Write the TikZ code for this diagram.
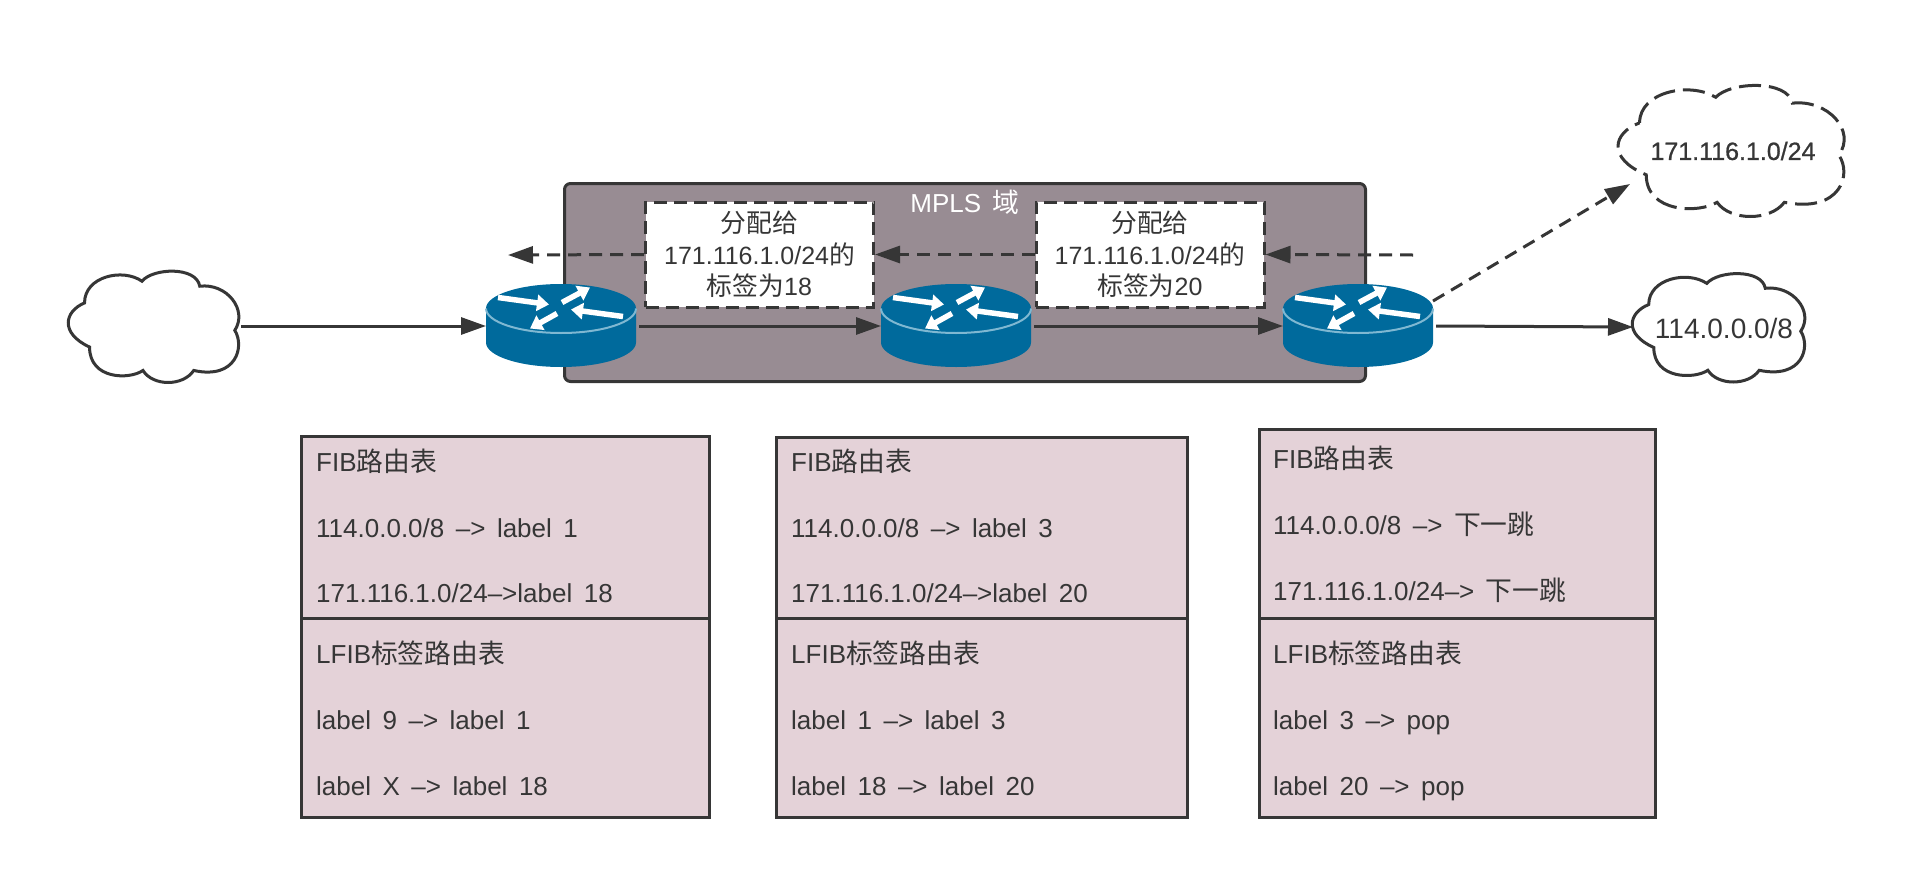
\documentclass[tikz,border=0pt]{standalone}
\usepackage{fontspec}
\setmainfont{Liberation Sans}
\newfontfamily\cjk[Scale=1.03]{Noto Sans CJK SC}
\newfontfamily\medf[FakeBold=0.8]{Liberation Sans}
\usetikzlibrary{arrows.meta}
\definecolor{ink}{HTML}{363636}
\definecolor{domfill}{HTML}{988C93}
\definecolor{tblfill}{HTML}{E4D2D8}
\definecolor{rblue}{HTML}{006A9C}
\definecolor{rline}{HTML}{7FB8D2}
\newcommand{\zh}[1]{{\cjk #1}}
\newcommand{\wide}{\spaceskip=11.5pt\relax}
\tikzset{
  conn/.style={draw=ink,line width=3pt,-{Triangle[length=25pt,width=17pt]}},
  dconn/.style={conn,dash pattern=on 13pt off 8pt},
  tbl/.style={draw=ink,line width=3pt,fill=tblfill,anchor=north west,inner sep=0pt},
  txt/.style={anchor=west,text=ink,inner sep=0pt,text height=23pt,text depth=5pt,font=\fontsize{26}{30}\selectfont\wide},
  lbl/.style={draw=ink,line width=3pt,dash pattern=on 13pt off 7pt,fill=white,text=ink,align=center,
    minimum width=228pt,minimum height=105pt,inner sep=0pt,font=\fontsize{25}{31.5}\selectfont},
  slot/.style={inner sep=0pt,outer sep=0pt},
  cloudline/.style={draw=ink,line width=3pt,fill=white},
  rarrow/.style={draw=white,line width=5.5pt,-{Triangle[length=12pt,width=16pt]}}
}
% cx cy w h style
\newcommand{\cloudart}[5]{%
  \begin{scope}[shift={(#1,#2)},xscale=#3/515,yscale=#4/338]
  \draw[#5] (-211,-69) .. controls (-211,-149) and (-96,-174) .. (-39,-134)
   .. controls (-6,-174) and (124,-179) .. (134,-119)
   .. controls (214,-129) and (279,-49) .. (239,13)
   .. controls (269,61) and (244,161) .. (116,133)
   .. controls (84,181) and (-6,181) .. (-36,133)
   .. controls (-76,161) and (-196,161) .. (-196,63)
   .. controls (-286,21) and (-271,-44) .. (-211,-69) -- cycle;
  \end{scope}}
% cx, y of the top ellipse centre
\newcommand{\routerart}[2]{%
  \begin{scope}[shift={(#1,#2)}]
  \fill[rblue] (-75,0) -- (-75,34) arc[start angle=180,end angle=0,x radius=75,y radius=24.5] -- (75,0) arc[start angle=0,end angle=-180,x radius=75,y radius=24.5] -- cycle;
  \draw[rline,line width=2pt] (-75,0) arc[start angle=180,end angle=0,x radius=75,y radius=24.5];
  \draw[rarrow] (-63,-11) -- (-12,-4);
  \draw[rarrow] (1,-6) -- (29,-21);
  \draw[rarrow] (62,8) -- (10,1);
  \draw[rarrow] (-4,5) -- (-31,20);
  \end{scope}}
\begin{document}
\begin{tikzpicture}[x=1pt,y=-1pt]
\useasboundingbox (0,0) rectangle (1920,870);
% MPLS domain
\node[draw=ink,line width=3pt,fill=domfill,rounded corners=6pt,anchor=north west,minimum width=801pt,minimum height=198pt,inner sep=0pt] (dom) at (563,182) {};
\node[text=white,inner sep=0pt,font=\fontsize{26}{30}\selectfont\wide] (domt) at (965,202) {MPLS \zh{域}};

% reserved places
\node[slot,minimum width=172pt,minimum height=113pt] (c1) at (155,326) {};
\node[slot,minimum width=228pt,minimum height=133pt] (c2) at (1733,150) {};
\node[slot,minimum width=174pt,minimum height=110pt] (c3) at (1720,327) {};
\node[slot,minimum width=150pt,minimum height=83pt] (r1) at (561,326) {};
\node[slot,minimum width=150pt,minimum height=83pt] (r2) at (956,326) {};
\node[slot,minimum width=150pt,minimum height=83pt] (r3) at (1358,326) {};

\coordinate (lfree) at (508,255);
\coordinate (rfree) at (1413,255);
\coordinate (r3out) at (1433,301);
\coordinate (c2in) at (1630,184);

% dashed label arrows
\node[lbl] (b1) at (759.5,254.5) {\zh{分配给}\\171.116.1.0/24\zh{的}\\\zh{标签为}18};
\node[lbl] (b2) at (1150,254.5) {\zh{分配给}\\171.116.1.0/24\zh{的}\\\zh{标签为}20};
\draw[dconn] (rfree) -- (b2.east);
\draw[dconn] (b2.west) -- (b1.east);
\draw[dconn] (b1.west) -- (lfree);

% clouds
\cloudart{155}{326}{172}{113}{cloudline}
\cloudart{1733}{150}{228}{133}{cloudline,dash pattern=on 22pt off 8pt}
\cloudart{1720}{327}{174}{110}{cloudline}
\node[text=ink,inner sep=0pt,font=\fontsize{25}{30}\medf] (c2t) at (1733,151) {171.116.1.0/24};
\node[text=ink,inner sep=0pt,font=\fontsize{28}{32}\selectfont] (c3t) at (1724,328) {114.0.0.0/8};

% routers
\routerart{561}{308.5}
\routerart{956}{308.5}
\routerart{1358}{308.5}

% solid arrows
\draw[conn] (c1.east) -- (r1.west);
\draw[conn] ([xshift=3pt]r1.east) -- (r2.west);
\draw[conn] ([xshift=3pt]r2.east) -- (r3.west);
\draw[conn] ([xshift=3pt]r3.east) -- (c3.west);
\draw[dconn] (r3out) -- (c2in);

% tables
\node[tbl,minimum width=408pt,minimum height=182pt] (t1a) at (300,435) {};
\node[tbl,minimum width=408pt,minimum height=199pt] (t1b) at (300,617) {};
\node[tbl,minimum width=411pt,minimum height=181pt] (t2a) at (775,436) {};
\node[tbl,minimum width=411pt,minimum height=199pt] (t2b) at (775,617) {};
\node[tbl,minimum width=396pt,minimum height=189pt] (t3a) at (1258,428) {};
\node[tbl,minimum width=396pt,minimum height=199pt] (t3b) at (1258,617) {};

\node[txt] (a1) at (316,462) {FIB\zh{路由表}};
\node[txt] (a2) at (316,528) {114.0.0.0/8 –> label 1};
\node[txt] (a3) at (316,593) {171.116.1.0/24–>label 18};
\node[txt] (a4) at (316,654) {LFIB\zh{标签路由表}};
\node[txt] (a5) at (316,720) {label 9 –> label 1};
\node[txt] (a6) at (316,786) {label X –> label 18};

\node[txt] (b1t) at (791,462) {FIB\zh{路由表}};
\node[txt] (b2t) at (791,528) {114.0.0.0/8 –> label 3};
\node[txt] (b3t) at (791,593) {171.116.1.0/24–>label 20};
\node[txt] (b4t) at (791,654) {LFIB\zh{标签路由表}};
\node[txt] (b5t) at (791,720) {label 1 –> label 3};
\node[txt] (b6t) at (791,786) {label 18 –> label 20};

\node[txt] (d1) at (1273,459) {FIB\zh{路由表}};
\node[txt] (d2) at (1273,525) {114.0.0.0/8 –> \zh{下一跳}};
\node[txt] (d3) at (1273,591) {171.116.1.0/24–> \zh{下一跳}};
\node[txt] (d4) at (1273,654) {LFIB\zh{标签路由表}};
\node[txt] (d5) at (1273,720) {label 3 –> pop};
\node[txt] (d6) at (1273,786) {label 20 –> pop};
\end{tikzpicture}
\end{document}
